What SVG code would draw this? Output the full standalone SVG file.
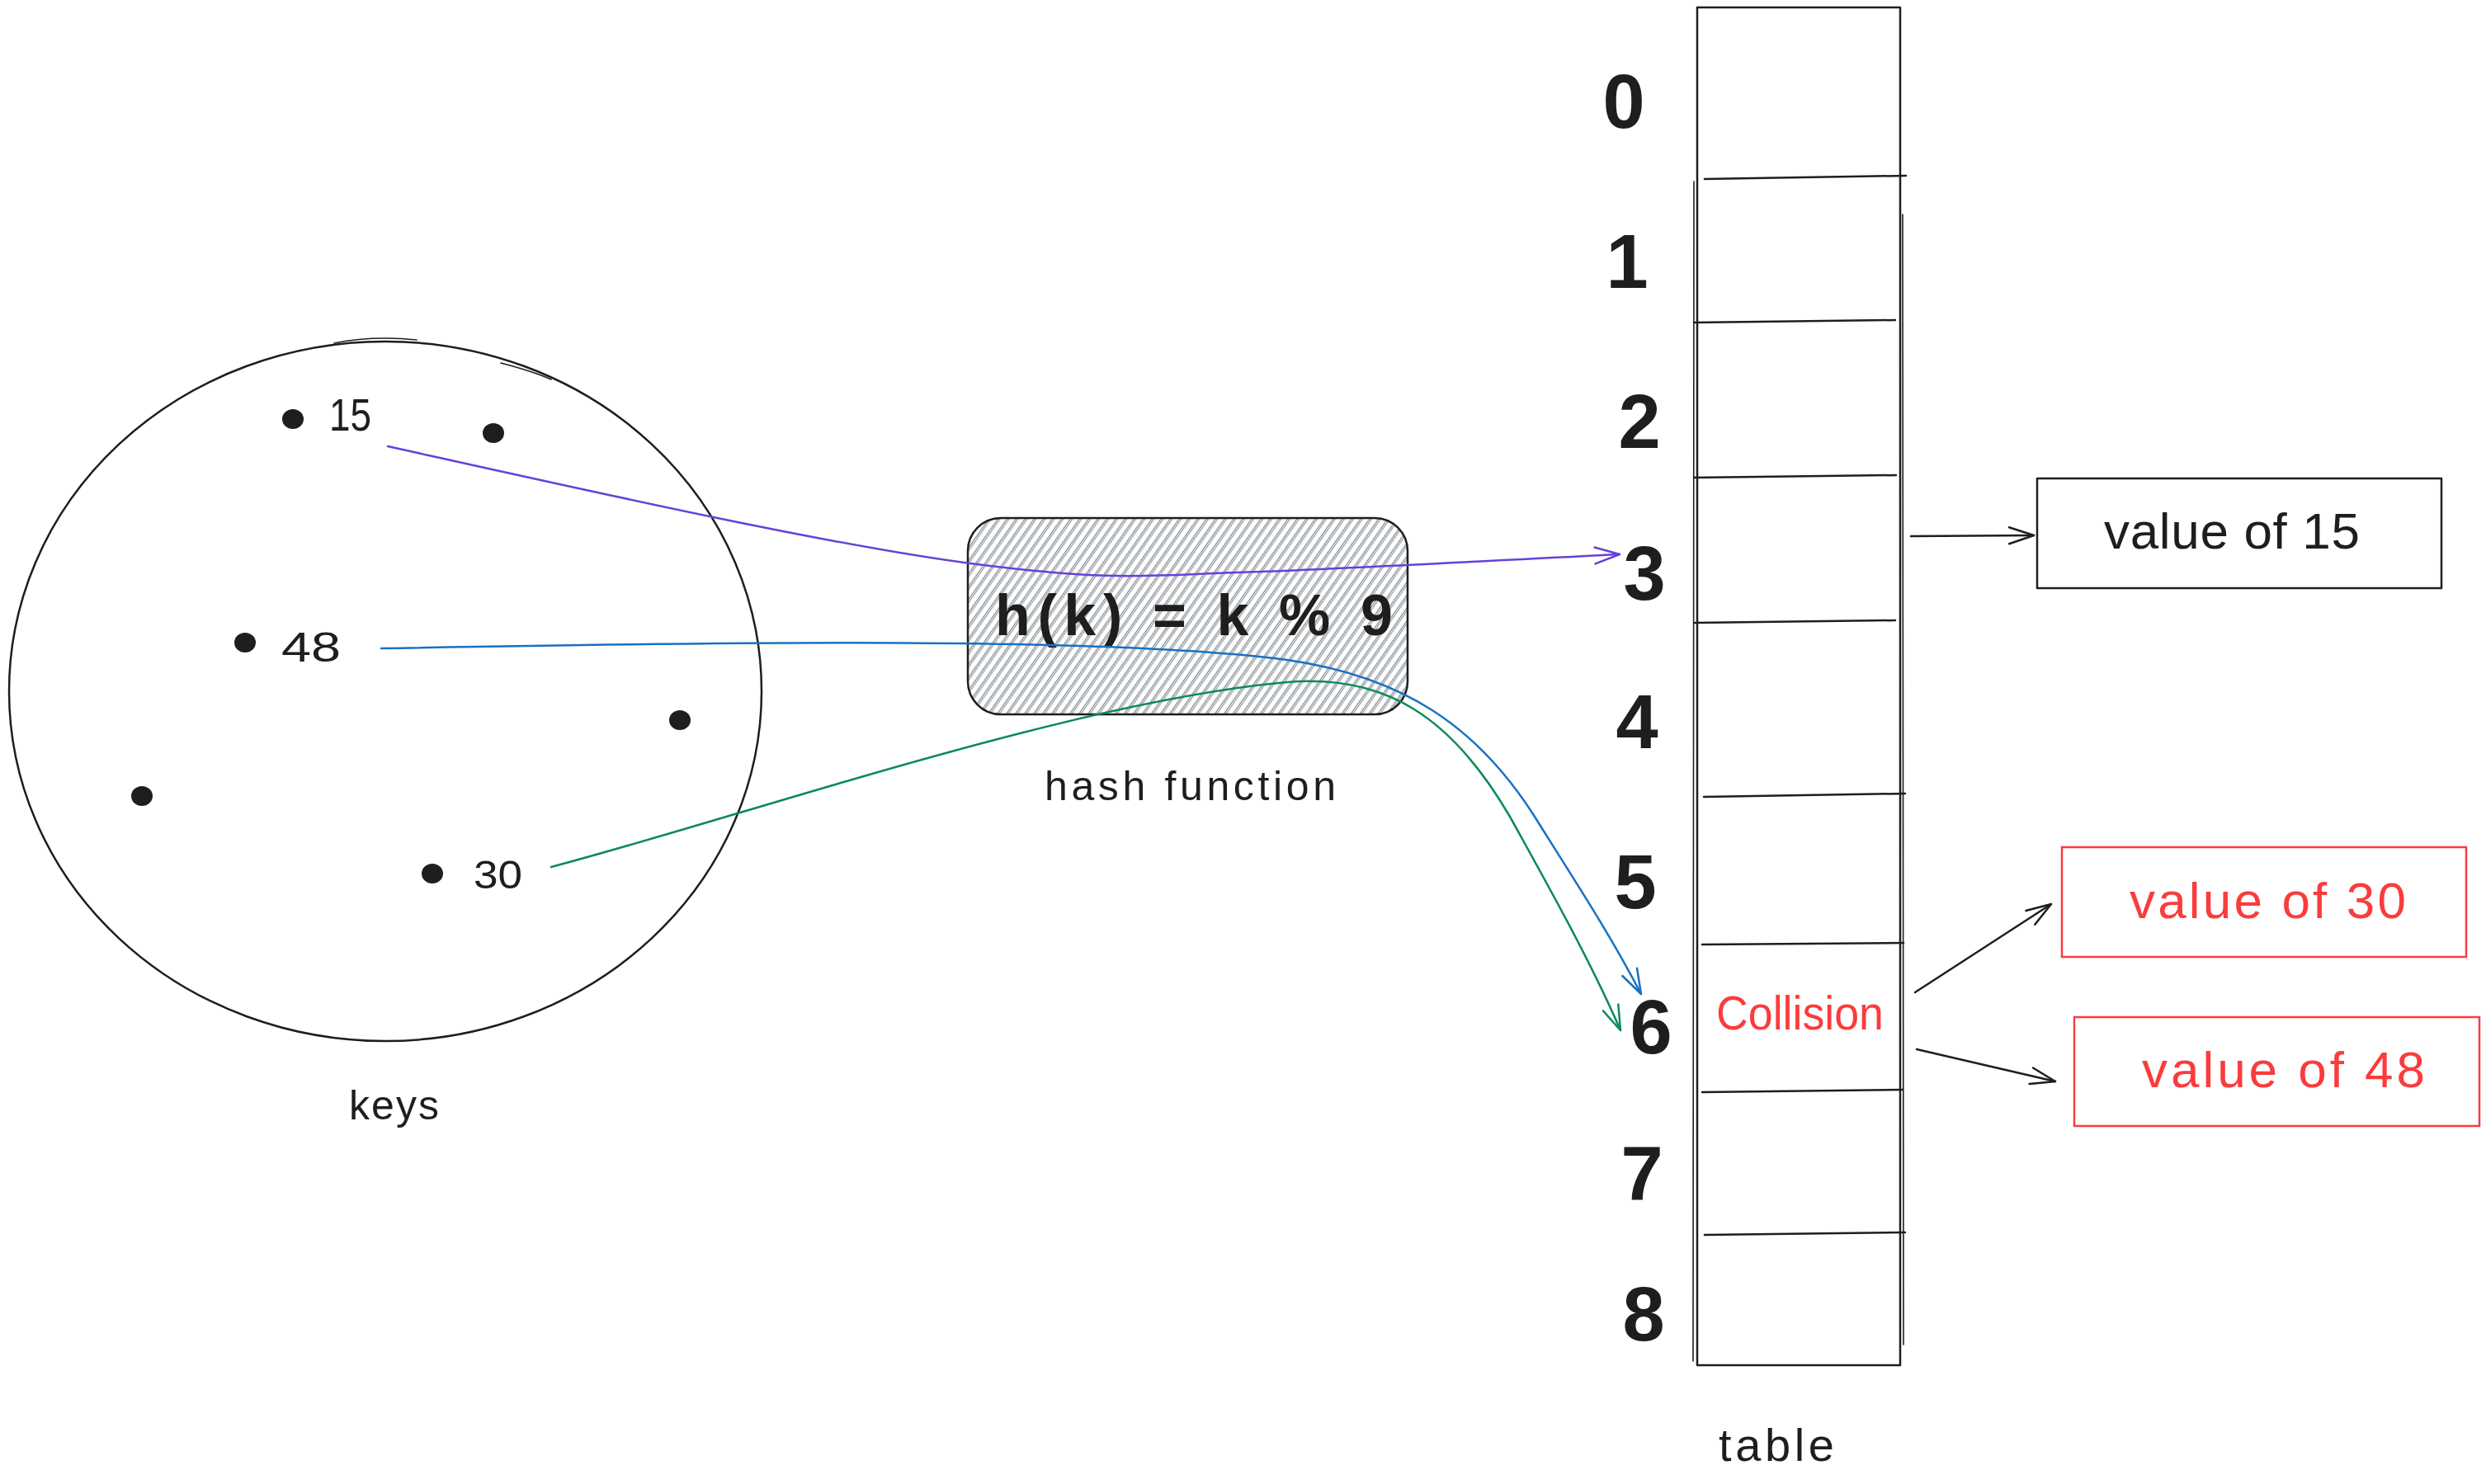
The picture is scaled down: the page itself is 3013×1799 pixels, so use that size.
<svg xmlns="http://www.w3.org/2000/svg" width="3013" height="1799" viewBox="0 0 3013 1799">
<defs>
<style>
text { font-family: "Liberation Sans", Arial, sans-serif; }
.ink { fill: none; stroke: #1e1e1e; stroke-width: 2.5; stroke-linecap: round; stroke-linejoin: round; }
.thin { stroke-width: 1.6; }
.redbox { fill: none; stroke: #fa3c3c; stroke-width: 2.5; }
.lbl { fill: #1e1e1e; }
.redtxt { fill: #fa3c3c; }
.idx { fill: #1e1e1e; font-size: 92px; font-weight: bold; text-anchor: middle; }
.dot { fill: #1e1e1e; }
.conn { fill: none; stroke-width: 2.5; stroke-linecap: round; }
</style>
<pattern id="hatch" width="9" height="9" patternUnits="userSpaceOnUse" patternTransform="rotate(35)">
<line x1="1.5" y1="0" x2="1.5" y2="9" stroke="#80878e" stroke-width="1.3"/>
<line x1="3.7" y1="0" x2="3.7" y2="9" stroke="#80878e" stroke-width="1"/>
</pattern>
<marker id="arrPurple" viewBox="-34 -14 36 28" refX="0" refY="0" markerWidth="36" markerHeight="28" markerUnits="userSpaceOnUse" orient="auto">
<path d="M-30,-10 L0,0 L-30,10" fill="none" stroke="#6741d9" stroke-width="2.5" stroke-linecap="round" stroke-linejoin="round"/>
</marker>
<marker id="arrBlue" viewBox="-34 -14 36 28" refX="0" refY="0" markerWidth="36" markerHeight="28" markerUnits="userSpaceOnUse" orient="auto">
<path d="M-30,-10 L0,0 L-30,10" fill="none" stroke="#1971c2" stroke-width="2.5" stroke-linecap="round" stroke-linejoin="round"/>
</marker>
<marker id="arrGreen" viewBox="-34 -14 36 28" refX="0" refY="0" markerWidth="36" markerHeight="28" markerUnits="userSpaceOnUse" orient="auto">
<path d="M-30,-10 L0,0 L-30,10" fill="none" stroke="#0c8a5a" stroke-width="2.5" stroke-linecap="round" stroke-linejoin="round"/>
</marker>
<marker id="arrBlack" viewBox="-34 -14 36 28" refX="0" refY="0" markerWidth="36" markerHeight="28" markerUnits="userSpaceOnUse" orient="auto">
<path d="M-30,-10 L0,0 L-30,10" fill="none" stroke="#1e1e1e" stroke-width="2.5" stroke-linecap="round" stroke-linejoin="round"/>
</marker>
</defs>
<rect x="0" y="0" width="3013" height="1799" fill="#ffffff"/>

<g id="keys">
<ellipse class="ink" cx="467" cy="838" rx="456" ry="424"/>
<path class="ink thin" d="M405,416 C440,409 475,409 505,412"/>
<path class="ink thin" d="M607,440 C630,446 650,452 668,460"/>
<ellipse class="dot" cx="355" cy="508" rx="13" ry="12"/>
<ellipse class="dot" cx="598" cy="525" rx="13" ry="12"/>
<ellipse class="dot" cx="297" cy="779" rx="13" ry="12"/>
<ellipse class="dot" cx="824" cy="873" rx="13" ry="12"/>
<ellipse class="dot" cx="172" cy="965" rx="13" ry="12"/>
<ellipse class="dot" cx="524" cy="1059" rx="13" ry="12"/>
<text class="lbl" x="399" y="522" font-size="56" textLength="51" lengthAdjust="spacingAndGlyphs">15</text>
<text class="lbl" x="341" y="802" font-size="50" textLength="72" lengthAdjust="spacingAndGlyphs">48</text>
<text class="lbl" x="574" y="1077" font-size="48" textLength="59" lengthAdjust="spacingAndGlyphs">30</text>
<text class="lbl" x="423" y="1357" font-size="50" textLength="109" lengthAdjust="spacing">keys</text>
</g>

<g id="hash-function">
<rect x="1173" y="628" width="533" height="238" rx="40" ry="40" fill="url(#hatch)"/>
<rect class="ink" x="1173" y="628" width="533" height="238" rx="40" ry="40"/>
<text class="lbl" x="1206" y="770" font-size="70" font-weight="bold" textLength="482" lengthAdjust="spacing">h(k) = k % 9</text>
<text class="lbl" x="1266" y="970" font-size="50" textLength="353" lengthAdjust="spacing">hash function</text>
</g>

<g id="table">
<rect class="ink" x="2057" y="9" width="246" height="1646"/>
<path class="ink thin" d="M2053,220 L2052,1650 M2306,260 L2307,1630"/>
<path class="ink" d="M2066,217 L2310,213"/>
<path class="ink" d="M2053,391 L2297,388"/>
<path class="ink" d="M2053,579 L2298,576"/>
<path class="ink" d="M2054,755 L2297,752"/>
<path class="ink" d="M2065,966 L2309,962"/>
<path class="ink" d="M2063,1145 L2307,1143"/>
<path class="ink" d="M2063,1324 L2306,1321"/>
<path class="ink" d="M2066,1497 L2309,1494"/>
<text class="idx" x="1968" y="155">0</text>
<text class="idx" x="1972" y="349">1</text>
<text class="idx" x="1987" y="543">2</text>
<text class="idx" x="1993" y="727">3</text>
<text class="idx" x="1984" y="907">4</text>
<text class="idx" x="1982" y="1101">5</text>
<text class="idx" x="2001" y="1277">6</text>
<text class="idx" x="1990" y="1454">7</text>
<text class="idx" x="1992" y="1625">8</text>
<text class="redtxt" x="2080" y="1248" font-size="58" textLength="203" lengthAdjust="spacingAndGlyphs">Collision</text>
<text class="lbl" x="2083" y="1771" font-size="56" textLength="140" lengthAdjust="spacing">table</text>
</g>

<g id="value-15">
<rect class="ink" x="2469" y="580" width="490" height="133"/>
<text class="lbl" x="2550" y="665" font-size="62" textLength="310" lengthAdjust="spacing">value of 15</text>
</g>

<g id="value-30">
<rect class="redbox" x="2499" y="1027" width="490" height="133"/>
<text class="redtxt" x="2581" y="1113" font-size="62" textLength="335" lengthAdjust="spacing">value of 30</text>
</g>

<g id="value-48">
<rect class="redbox" x="2514" y="1233" width="491" height="132"/>
<text class="redtxt" x="2596" y="1318" font-size="62" textLength="343" lengthAdjust="spacing">value of 48</text>
</g>

<g id="connectors">
<path class="conn" stroke="#6741d9" d="M470,541 C700,592 1000,660 1176,683 S1400,697 1500,694 S1800,680 1963,672" marker-end="url(#arrPurple)"/>
<path class="conn" stroke="#1971c2" d="M462,786 C900,778 1350,772 1560,800 C1700,820 1790,880 1860,990 C1910,1070 1950,1130 1989,1205" marker-end="url(#arrBlue)"/>
<path class="conn" stroke="#0c8a5a" d="M668,1051 C900,990 1300,850 1560,827 C1680,817 1760,870 1830,990 C1880,1080 1930,1170 1964,1249" marker-end="url(#arrGreen)"/>
<path class="conn" stroke="#1e1e1e" d="M2316,650 L2465,649" marker-end="url(#arrBlack)"/>
<path class="conn" stroke="#1e1e1e" d="M2321,1203 L2486,1096" marker-end="url(#arrBlack)"/>
<path class="conn" stroke="#1e1e1e" d="M2323,1272 L2491,1311" marker-end="url(#arrBlack)"/>
</g>
</svg>
